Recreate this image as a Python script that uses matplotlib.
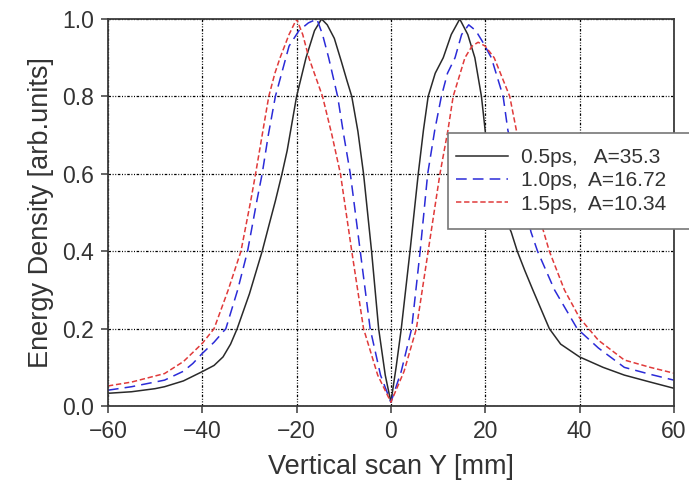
import matplotlib
matplotlib.use("Agg")
import matplotlib.pyplot as plt
from matplotlib.patches import Rectangle

plt.rcParams['font.family'] = ['Liberation Sans', 'DejaVu Sans']

# Vertical profiles of energy density for three pulse durations
x_05 = [-60, -55, -50, -48, -44, -40, -37.5, -35.6, -34, -32.6, -30, -27.3, -25.8,
        -24.5, -23.1, -22, -20, -18.0, -16.2, -14.7, -13.5, -12.0, -10.5, -9.3, -8.3,
        -7.0, -5.8, -4.1, -2.6, -1.2, 0,
        1.1, 2.2, 4.05, 5.8, 6.9, 7.9, 9.4, 11.1, 12.8, 14.6, 16.3, 17.8, 19.2, 20.1,
        21.4, 23.3, 25.5, 26.8, 28.4, 30.1, 33.6, 36, 40, 45, 49.5, 55, 60]
y_05 = [0.033, 0.037, 0.045, 0.05, 0.065, 0.089, 0.105, 0.127, 0.16, 0.2, 0.29, 0.40, 0.47,
        0.53, 0.6, 0.66, 0.8, 0.9, 0.97, 1.0, 0.985, 0.95, 0.89, 0.84, 0.8,
        0.71, 0.6, 0.4, 0.2, 0.08, 0.01,
        0.1, 0.2, 0.4, 0.6, 0.713, 0.8, 0.86, 0.9, 0.96, 1.0, 0.96, 0.9, 0.8, 0.7,
        0.6, 0.51, 0.45, 0.4, 0.35, 0.3, 0.2, 0.16, 0.127, 0.1, 0.08, 0.062, 0.046]

x_10 = [-60, -55, -48, -44, -42, -40, -37.5, -35, -32.5, -30.4, -28.4, -27.3, -26,
        -24.5, -21.6, -19.5, -17.5, -15.7, -14.5, -13.2, -11.3, -10, -8.6, -6.5, -4.4,
        -2.2, 0,
        2.2, 4.4, 6.2, 7.8, 9.3, 10.7, 12, 13.6, 15, 16.5, 18, 19.5, 21.3, 23.8, 24.8,
        26, 27.5, 29.7, 31.1, 34.7, 39.5, 44, 49.5, 55, 60]
y_10 = [0.041, 0.05, 0.067, 0.09, 0.11, 0.136, 0.165, 0.2, 0.3, 0.40, 0.532, 0.6, 0.7,
        0.8, 0.93, 0.97, 0.99, 1.0, 0.96, 0.9, 0.8, 0.7, 0.6, 0.4, 0.2,
        0.08, 0.01,
        0.09, 0.2, 0.4, 0.6, 0.713, 0.8, 0.86, 0.9, 0.96, 0.985, 0.97, 0.94, 0.9, 0.8, 0.713,
        0.65, 0.57, 0.45, 0.4, 0.3, 0.2, 0.15, 0.10, 0.082, 0.067]

x_15 = [-60, -55, -48, -44, -40, -37.5, -34.5, -31.8, -29.7, -28.7, -27.3, -25.9,
        -24.6, -23.5, -21.6, -20, -18.7, -17.4, -14.5, -12.5, -10.7, -8.3, -5.8, -2.8, 0,
        2.8, 5.4, 7.9, 10.4, 12.1, 13.2, 15.7, 17.2, 18.5, 20, 21.9, 25.2, 26.6, 28,
        29.5, 32.4, 33.6, 36.8, 40, 44, 49.5, 55, 60]
y_15 = [0.052, 0.062, 0.084, 0.115, 0.162, 0.2, 0.3, 0.4, 0.532, 0.6, 0.7, 0.8,
        0.86, 0.9, 0.96, 1.0, 0.96, 0.9, 0.8, 0.7, 0.6, 0.4, 0.2, 0.08, 0.01,
        0.09, 0.2, 0.4, 0.6, 0.713, 0.8, 0.9, 0.93, 0.94, 0.93, 0.9, 0.8, 0.713, 0.65,
        0.57, 0.45, 0.4, 0.3, 0.228, 0.17, 0.119, 0.1, 0.085]

labels = ["0.5ps,   A=35.3", "1.0ps,  A=16.72", "1.5ps,  A=10.34"]
x_ticks = [-60, -40, -20, 0, 20, 40, 60]
y_ticks = [0.0, 0.2, 0.4, 0.6, 0.8, 1.0]

fig = plt.figure(figsize=(6.89, 4.94), dpi=100)
ax = fig.add_axes([0.1567, 0.178, 0.8213, 0.7835])

l1, = ax.plot(x_05, y_05, color='#2a2a2a', lw=1.1, ls='-')
l2, = ax.plot(x_10, y_10, color='#2b2bd8', lw=1.1, ls=(0, (7, 4)))
l3, = ax.plot(x_15, y_15, color='#e03a3a', lw=1.1, ls=(0, (3.5, 1.8)))

ax.set_xlim(-60, 60)
ax.set_ylim(0, 1.0)
ax.set_xticks(x_ticks)
ax.set_yticks(y_ticks)
ax.set_yticklabels([f"{v:.1f}" for v in y_ticks])

grid_style = (0, (2, 1.3, 0.8, 1.3, 0.8, 1.3))
ax.grid(True, color='black', lw=0.9, ls=grid_style)
ax.set_axisbelow(True)

for s in ax.spines.values():
    s.set_color('#3a3a3a')
    s.set_linewidth(1.3)

ax.tick_params(axis='both', direction='out', length=5, width=1.1, color='#3a3a3a',
               labelsize=16.5, labelcolor='#333333', pad=5)
ax.set_xlabel("Vertical scan Y [mm]", fontsize=19.5, color='#333333', labelpad=8)
ax.set_ylabel("Energy Density [arb.units]", fontsize=19.5, color='#333333', labelpad=6)

# Legend box reaching past the right edge of the figure
box = Rectangle((448 / 689, 1 - 229 / 494), 260 / 689, 96 / 494,
                transform=fig.transFigure, facecolor='white', edgecolor='#777777',
                lw=1.2, clip_on=False, zorder=5)
fig.add_artist(box)
leg = fig.legend([l1, l2, l3], labels, loc='upper left',
                 bbox_to_anchor=(452 / 689, 1 - 144 / 494), bbox_transform=fig.transFigure,
                 frameon=False, fontsize=15, handlelength=2.5, handletextpad=0.6,
                 labelspacing=0.2, borderaxespad=0, borderpad=0.2)
leg.set_zorder(6)
for t in leg.get_texts():
    t.set_color('#333333')

fig.savefig("out.png", dpi=100)
